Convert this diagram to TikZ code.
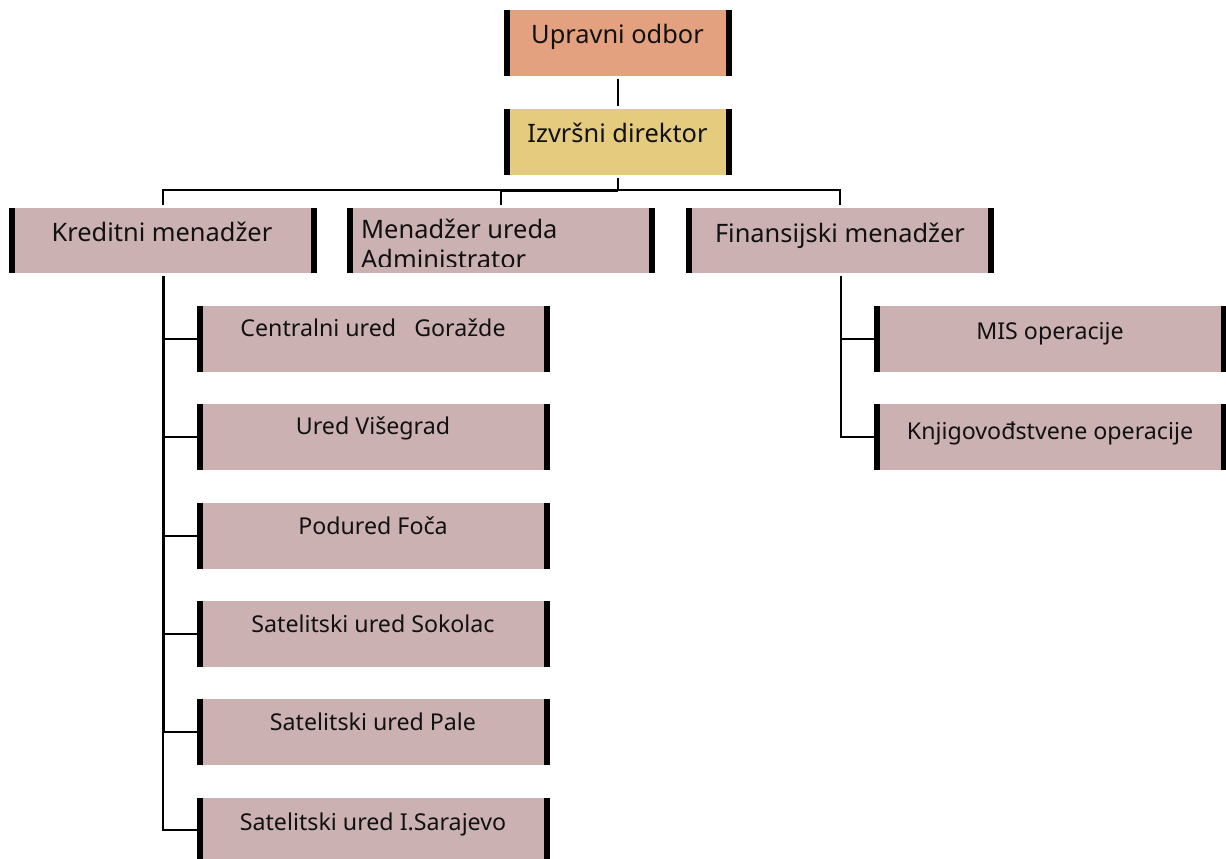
\documentclass[tikz,border=0pt]{standalone}
\usepackage{fontspec}
\setmainfont{Noto Sans}
\definecolor{rosebox}{HTML}{CBB1B2}
\definecolor{salmonbox}{HTML}{E3A180}
\definecolor{sandbox}{HTML}{E4CB7E}
\definecolor{inkc}{HTML}{111111}
\tikzset{
  x=1pt,y=-1pt,
  orgbox/.style={draw=none,fill=rosebox,inner sep=0pt,outer sep=0pt,anchor=north west,
    path picture={
      \fill[black] (path picture bounding box.north west) rectangle ([xshift=6pt]path picture bounding box.south west);
      \fill[black] ([xshift=-6pt]path picture bounding box.north east) rectangle (path picture bounding box.south east);
    }},
  bigbox/.style={orgbox,minimum width=228pt,minimum height=66pt},
  midbox/.style={orgbox,minimum width=308pt,minimum height=65pt},
  subbox/.style={orgbox,minimum width=353pt,minimum height=66pt},
  bigtxt/.style={anchor=base,font=\fontsize{25.4}{29}\selectfont,text=inkc,inner sep=0pt},
  smalltxt/.style={anchor=base,font=\fontsize{23.2}{27}\selectfont,text=inkc,inner sep=0pt},
  thinln/.style={line width=1.6pt,black},
  stubln/.style={line width=2pt,black},
  thickln/.style={line width=3pt,black},
}
\begin{document}
\begin{tikzpicture}
\useasboundingbox (0,0) rectangle (1226,859);
% boxes
\node[bigbox,fill=salmonbox] (upr) at (504,10) {};
\node[bigbox,fill=sandbox] (izv) at (504,109) {};
\node[midbox] (kre) at (9,208) {};
\node[midbox] (men) at (347,208) {};
\node[midbox] (fin) at (686,208) {};
\node[subbox] (s1) at (197,306) {};
\node[subbox] (s2) at (197,404) {};
\node[subbox] (s3) at (197,503) {};
\node[subbox] (s4) at (197,601) {};
\node[subbox] (s5) at (197,699) {};
\node[subbox,minimum height=61pt] (s6) at (197,798) {};
\node[subbox] (r1) at (874,306) {};
\node[subbox] (r2) at (874,404) {};
% texts
\node[bigtxt] (tupr) at (617.5,43.5) {Upravni odbor};
\node[bigtxt] (tizv) at (617.5,142.5) {Izvršni direktor};
\node[bigtxt] (tkre) at (162,241) {Kreditni menadžer};
\begin{scope}
\clip (347,208) rectangle (655,266);
\node[bigtxt,anchor=base west] (tmen) at (361,238) {Menadžer ureda};
\node[bigtxt,anchor=base west] (tadm) at (361,268) {Administrator};
\end{scope}
\node[bigtxt] (tfin) at (840,242) {Finansijski menadžer};
\node[smalltxt] (ts1) at (373,336.5) {Centralni ured\ \ \ Goražde};
\node[smalltxt] (ts2) at (373,434.5) {Ured Višegrad};
\node[smalltxt] (ts3) at (373,534.5) {Podured Foča};
\node[smalltxt] (ts4) at (373,632.5) {Satelitski ured Sokolac};
\node[smalltxt] (ts5) at (373,730.5) {Satelitski ured Pale};
\node[smalltxt] (ts6) at (373,830) {Satelitski ured I.Sarajevo};
\node[smalltxt] (tr1) at (1050,339.5) {MIS operacije};
\node[smalltxt] (tr2) at (1050,439.5) {Knjigovođstvene operacije};
% connectors
\coordinate (busc) at (618,190);
\coordinate (busm) at (501,190);
\coordinate (busl) at (163,190);
\coordinate (busr) at (840,190);
\coordinate (kredrop) at (163,276);
\coordinate (findrop) at (841,276);
\coordinate (s6stub) at (197,830);
\draw[thinln,shorten <=3pt,shorten >=3pt] (upr.south) -- (izv.north);
\draw[thinln,shorten <=3pt] (izv.south) -- (busc);
\draw[thickln] (busc) -- (busm);
\draw[thinln,line cap=rect] (busm) -- (busl);
\draw[thinln,line cap=rect] (busc) -- (busr);
\draw[thinln,shorten >=3pt] (busl) -- (busl |- kre.north);
\draw[thinln,shorten >=3pt] (busm) -- (busm |- men.north);
\draw[thinln,shorten >=3pt] (busr) -- (busr |- fin.north);
\draw[thickln] (kredrop) -- (kredrop |- s5.west);
\draw[thinln] (kredrop |- s5.west) -- (kredrop |- s6stub) -- (s6stub);
\foreach \n in {s1,s2,s3,s4,s5}{
  \draw[stubln] (kredrop |- \n.west) -- (\n.west);
}
\draw[line width=2.4pt] (findrop) -- (findrop |- r1.west);
\draw[stubln] (findrop |- r1.west) -- (r1.west);
\draw[thinln] (findrop |- r1.west) -- (findrop |- r2.west) -- (r2.west);
\end{tikzpicture}
\end{document}
